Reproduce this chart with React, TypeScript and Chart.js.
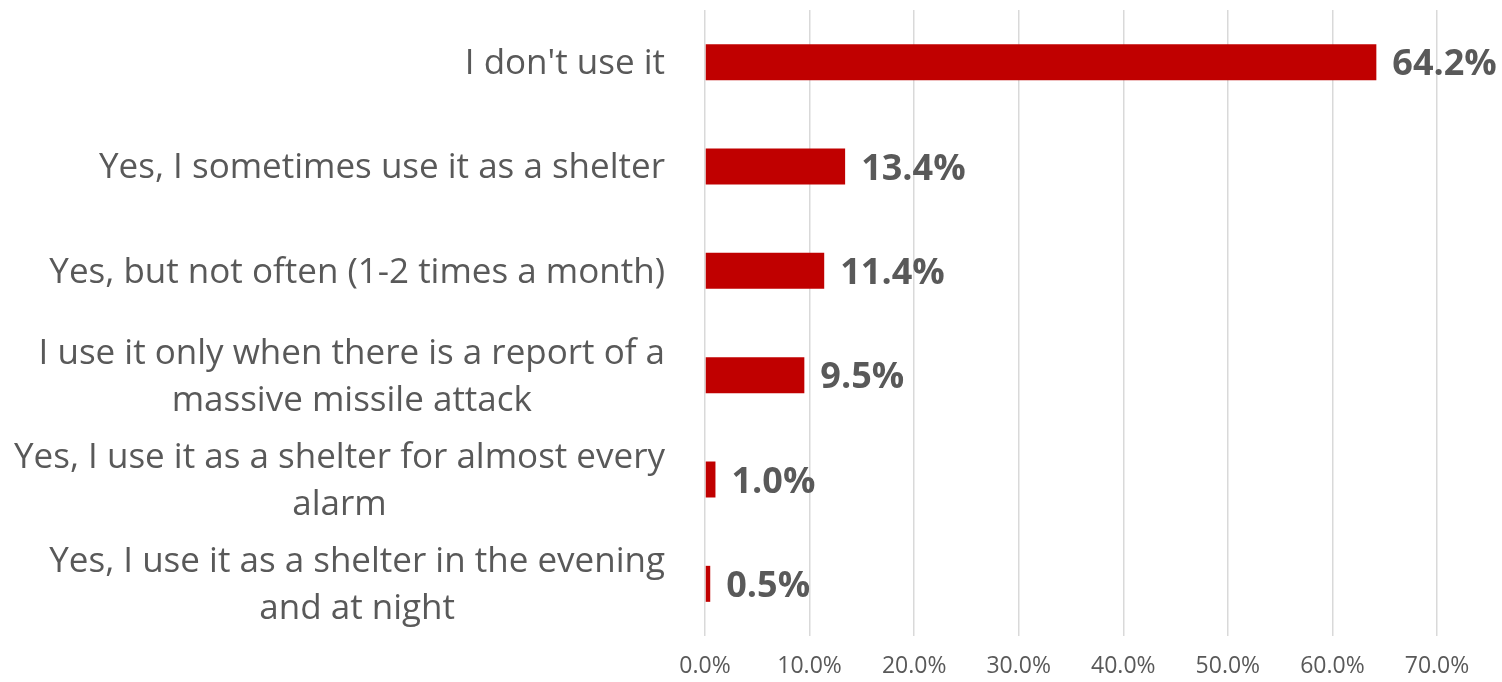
import React, { useEffect, useRef } from "react";
import { Chart, registerables } from "chart.js";

Chart.register(...registerables);

const categories: string[][] = [
  ["I don't use it"],
  ["Yes, I sometimes use it as a shelter"],
  ["Yes, but not often (1-2 times a month)"],
  ["I use it only when there is a report of a", "massive missile attack"],
  ["Yes, I use it as a shelter for almost every", "alarm"],
  ["Yes, I use it as a shelter in the evening", "and at night"],
];
const values: number[] = [64.2, 13.4, 11.4, 9.5, 1.0, 0.5];
const xTicks: number[] = [0, 10, 20, 30, 40, 50, 60, 70];

const FONT = "'Open Sans', 'Noto Sans', sans-serif";
const GRAY = "#595959";
const BAR = "#C00000";

const labelPlugin = {
  id: "customLabels",
  afterDraw(chart: any) {
    const ctx = chart.ctx;
    const y = chart.scales.y;
    const x = chart.scales.x;
    ctx.save();
    // category labels
    ctx.font = `35px ${FONT}`;
    ctx.fillStyle = GRAY;
    ctx.textBaseline = "middle";
    ctx.textAlign = "center";
    const right = chart.chartArea.left - 40;
    const lh = 47;
    categories.forEach((lines, i) => {
      const cy = y.getPixelForValue(i);
      const w = Math.max(...lines.map((l) => ctx.measureText(l).width));
      const cx = right - w / 2;
      const start = cy - ((lines.length - 1) * lh) / 2 + 2;
      lines.forEach((l, j) => ctx.fillText(l, cx, start + j * lh));
    });
    // value labels
    ctx.font = `bold 36px ${FONT}`;
    ctx.textAlign = "left";
    values.forEach((v, i) => {
      const px = x.getPixelForValue(v);
      const cy = y.getPixelForValue(i);
      ctx.fillText(v.toFixed(1) + "%", px + 16, cy + 3);
    });
    ctx.restore();
  },
};

export default function App() {
  const ref = useRef<HTMLCanvasElement | null>(null);
  useEffect(() => {
    document.body.style.margin = "0";
    const canvas = ref.current;
    if (!canvas) return;
    const chart = new Chart(canvas, {
      type: "bar",
      data: {
        labels: categories.map((c) => c.join(" ")),
        datasets: [
          {
            data: values,
            backgroundColor: BAR,
            barPercentage: 0.69,
            categoryPercentage: 0.5,
          },
        ],
      },
      options: {
        indexAxis: "y",
        animation: false,
        responsive: false,
        layout: { padding: { left: 0, right: 65, top: 10, bottom: 0 } },
        plugins: { legend: { display: false }, tooltip: { enabled: false } },
        scales: {
          x: {
            min: 0,
            max: 70,
            afterBuildTicks: (s: any) => {
              s.ticks = xTicks.map((v) => ({ value: v }));
            },
            afterFit: (s: any) => {
              s.height = 46;
            },
            grid: { color: "#d9d9d9", lineWidth: 1.5, drawTicks: false },
            border: { display: false },
            ticks: {
              color: GRAY,
              font: { family: FONT, size: 23 },
              padding: 17,
              callback: (v: any) => Number(v).toFixed(1) + "%",
            },
          },
          y: {
            grid: { display: false },
            border: { display: false },
            ticks: { display: false },
            afterFit: (s: any) => {
              s.width = 705;
            },
          },
        },
      },
      plugins: [labelPlugin],
    });
    return () => chart.destroy();
  }, []);
  return (
    <div style={{ width: 1502, height: 682 }}>
      <canvas ref={ref} width={1502} height={682} style={{ display: "block" }} />
    </div>
  );
}
